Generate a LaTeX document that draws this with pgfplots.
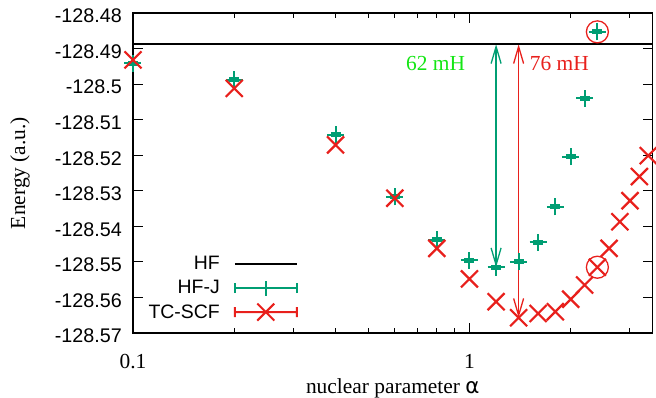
\documentclass[border=0pt]{standalone}
\usepackage{pgfplots}
\pgfplotsset{compat=1.18}
\usepackage{fontspec}
\setmainfont{Liberation Serif}
\newfontfamily\sansf{Liberation Sans}
\newfontfamily\dejavu{DejaVu Sans}
\usetikzlibrary{arrows.meta}
\definecolor{hfjgreen}{RGB}{0,158,115}
\definecolor{tcred}{RGB}{232,32,28}
\definecolor{lbgreen}{RGB}{20,230,20}
\pgfdeclareplotmark{hfj}{%
  \pgfpathmoveto{\pgfqpoint{-8.5bp}{0bp}}\pgfpathlineto{\pgfqpoint{8.5bp}{0bp}}%
  \pgfpathmoveto{\pgfqpoint{0bp}{-8.5bp}}\pgfpathlineto{\pgfqpoint{0bp}{8.5bp}}%
  \pgfusepathqstroke
  \pgfpathrectanglecorners{\pgfqpoint{-5bp}{-2.5bp}}{\pgfqpoint{5bp}{2.5bp}}%
  \pgfusepathqfill}
\pgfdeclareplotmark{bigx}{%
  \pgfpathmoveto{\pgfqpoint{-8.5bp}{-8.5bp}}\pgfpathlineto{\pgfqpoint{8.5bp}{8.5bp}}%
  \pgfpathmoveto{\pgfqpoint{-8.5bp}{8.5bp}}\pgfpathlineto{\pgfqpoint{8.5bp}{-8.5bp}}%
  \pgfusepathqstroke}
\pgfplotstableread{
x y
0.1 -128.4941
0.2 -128.4988
0.4 -128.5143
0.6 -128.5317
0.8 -128.5438
1.0 -128.5495
1.2 -128.5515
1.4 -128.5499
1.6 -128.5445
1.8 -128.5345
2.0 -128.5204
2.2 -128.5040
2.4 -128.4853
}\hfj
\pgfplotstableread{
x y
0.1 -128.4932
0.2 -128.5012
0.4 -128.5171
0.6 -128.5321
0.8 -128.5462
1.0 -128.5548
1.2 -128.5612
1.4 -128.5657
1.6 -128.5645
1.8 -128.5640
2.0 -128.5605
2.2 -128.5565
2.4 -128.5515
2.6 -128.5462
2.8 -128.5387
3.0 -128.5328
3.2 -128.5260
3.4 -128.5201
}\tcscf
\begin{document}
\begin{tikzpicture}
\begin{axis}[
  scale only axis, width=519.5bp, height=320bp,
  xmode=log, xmin=0.1, xmax=3.5, ymin=-128.57, ymax=-128.48,
  xtick={0.1,1}, xticklabels={0.1,1},
  minor xtick={0.2,0.3,0.4,0.5,0.6,0.7,0.8,0.9,2,3},
  ytick={-128.57,-128.56,-128.55,-128.54,-128.53,-128.52,-128.51,-128.5,-128.49,-128.48},
  yticklabels={-128.57,-128.56,-128.55,-128.54,-128.53,-128.52,-128.51,-128.5,-128.49,-128.48},
  tick align=inside, major tick length=10bp, minor tick length=5bp,
  axis line style={line width=1.3bp}, every tick/.style={line width=1bp, black},
  xticklabel style={font=\fontsize{21.5}{25}\selectfont, anchor=base, yshift=-35bp},
  yticklabel style={font=\sansf\fontsize{19.8}{23}\selectfont, anchor=east, inner sep=0pt, xshift=-11bp, yshift=-3bp},
  xlabel={nuclear parameter {\dejavu α}}, ylabel={Energy (a.u.)},
  label style={font=\fontsize{21.5}{25}\selectfont},
  xlabel style={at={(axis description cs:0.5,-0.1875)}, anchor=base},
  ylabel style={at={(axis description cs:-0.2175,0.5)}, anchor=center},
  clip=false,
  legend cell align=right, legend plot pos=right,
  legend style={draw=none, fill=none, font=\sansf\fontsize{19.5}{23}\selectfont,
    at={(axis description cs:0.3176,0.032)}, anchor=south east, inner sep=0pt,
    column sep=14bp, row sep=3bp, nodes={minimum height=21bp, inner sep=0pt}},
]
\draw[hfjgreen, line width=1.3bp, {Straight Barb[length=17bp,width=10bp]}-{Straight Barb[length=17bp,width=10bp]}]
  (axis cs:1.2,-128.4888) -- (axis cs:1.2,-128.5515);
\draw[tcred, line width=1.3bp, {Straight Barb[length=17bp,width=10bp]}-{Straight Barb[length=17bp,width=10bp]}]
  (axis cs:1.4,-128.4888) -- (axis cs:1.4,-128.5657);
\addplot[black, line width=1.8bp, legend image code/.code={\draw[black, line width=2bp] (0bp,0bp) -- (62bp,0bp);}]
  coordinates {(0.1,-128.4888) (3.5,-128.4888)};
\addlegendentry{HF}
\addplot[only marks, mark=hfj, hfjgreen, mark options={line width=2bp, fill=hfjgreen, draw=hfjgreen},
  legend image code/.code={\draw[hfjgreen, line width=1.8bp] (0bp,0bp) -- (62bp,0bp) (0bp,-5bp) -- (0bp,5bp) (62bp,-5bp) -- (62bp,5bp) (31bp,-7.5bp) -- (31bp,7.5bp);}]
  table[x=x,y=y] {\hfj};
\addlegendentry{HF-J}
\addplot[only marks, mark=bigx, tcred, mark options={line width=2.2bp},
  legend image code/.code={\draw[tcred, line width=2bp] (0bp,0bp) -- (62bp,0bp) (0bp,-5bp) -- (0bp,5bp) (62bp,-5bp) -- (62bp,5bp) (22.5bp,-8.5bp) -- (39.5bp,8.5bp) (22.5bp,8.5bp) -- (39.5bp,-8.5bp);}]
  table[x=x,y=y] {\tcscf};
\addlegendentry{TC-SCF}
\draw[tcred, line width=1.3bp] (axis cs:2.4,-128.4853) circle[radius=11bp];
\draw[tcred, line width=1.3bp] (axis cs:2.4,-128.5515) circle[radius=11bp];
\node[text=lbgreen, font=\fontsize{21.5}{25}\selectfont] at (axis cs:0.793,-128.4941) {62 mH};
\node[text=tcred, font=\fontsize{21.5}{25}\selectfont] at (axis cs:1.85,-128.4941) {76 mH};
\end{axis}
\pgfresetboundingbox
\path[use as bounding box] (-133bp,-65bp) rectangle (523bp,333bp);
\end{tikzpicture}
\end{document}
